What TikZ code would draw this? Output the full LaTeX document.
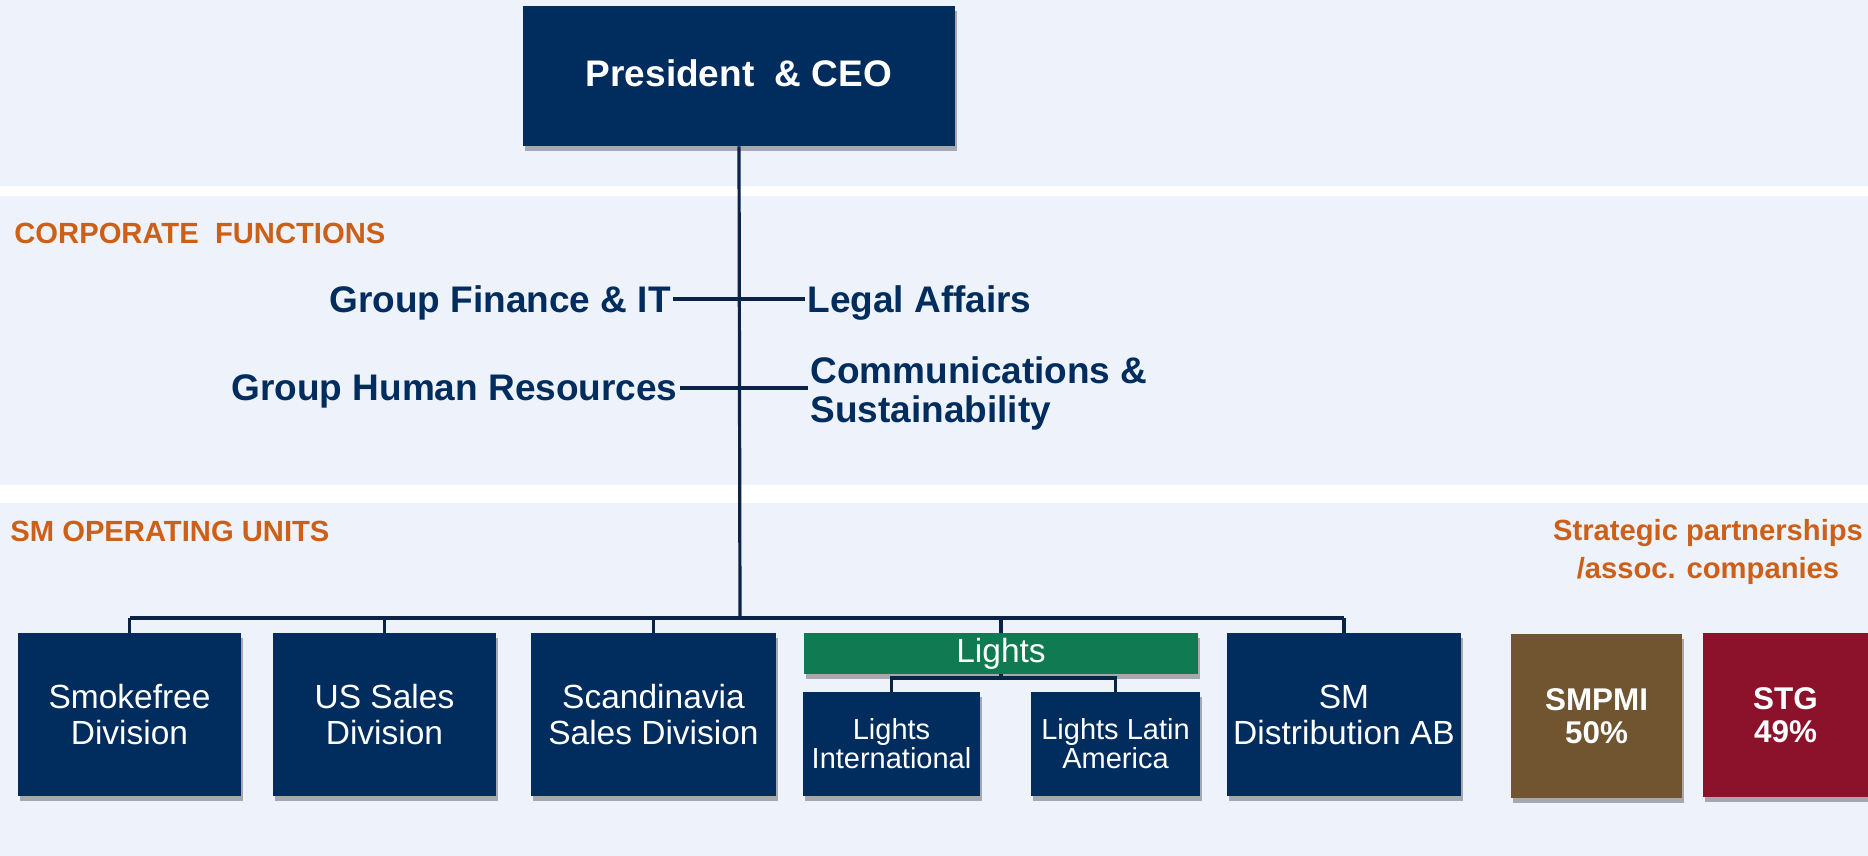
\documentclass[tikz,border=0pt]{standalone}
\usepackage{fontspec}
\setmainfont{Liberation Sans}
\usetikzlibrary{shadows}
\definecolor{smnavy}{RGB}{1,44,94}
\definecolor{smline}{RGB}{10,35,70}
\definecolor{smgreen}{RGB}{16,123,82}
\definecolor{smbrown}{RGB}{112,85,48}
\definecolor{smred}{RGB}{139,18,42}
\definecolor{smorange}{RGB}{204,96,24}
\definecolor{bandbg}{RGB}{238,242,250}
\tikzset{
  boxshadow/.style={drop shadow={shadow xshift=1.2pt,shadow yshift=-2.5pt,opacity=.3,fill=black}},
  unitbox/.style={fill=smnavy,text=white,align=center,inner sep=0pt,boxshadow,
    font=\fontsize{16.75}{18}\selectfont},
  subbox/.style={unitbox,font=\fontsize{14.5}{14.5}\selectfont},
  partbox/.style={unitbox,font=\bfseries\fontsize{15.7}{16.5}\selectfont},
  funclabel/.style={text=smnavy,inner sep=1pt,text depth=0pt,align=left,
    font=\bfseries\fontsize{18.5}{19.5}\selectfont},
  headlabel/.style={text=smorange,inner sep=0pt,align=center,
    font=\bfseries\fontsize{14.6}{19}\selectfont},
  conn/.style={draw=smline,line width=1.6pt}
}
\begin{document}
\begin{tikzpicture}[x=0.5pt,y=-0.5pt]
  \useasboundingbox (0,0) rectangle (1868,856);
  % background bands
  \fill[white] (0,0) rectangle (1868,856);
  \fill[bandbg] (0,0) rectangle (1868,186);
  \fill[bandbg] (0,196) rectangle (1868,485);
  \fill[bandbg] (0,503) rectangle (1868,856);
  % section headings
  \node[headlabel,anchor=west] (corpfn) at (14,233) {CORPORATE\ \ FUNCTIONS};
  \node[headlabel,anchor=west] (opunits) at (10,531) {SM OPERATING UNITS};
  \node[headlabel] (partners) at (1708,552) {Strategic partnerships\\/assoc. companies};
  % top
  \node[unitbox,minimum width=216pt,minimum height=70pt,text depth=3pt,font=\bfseries\fontsize{18.5}{20}\selectfont]
    (ceo) at (739,76) {President\ \ \& CEO};
  \coordinate (bus) at (740,618);
  \draw[conn] (ceo.south) -- (bus);
  % corporate functions
  \node[funclabel,anchor=east] (finance) at (673,299) {Group Finance \& IT};
  \node[funclabel,anchor=west] (legal) at (805,299) {Legal Affairs};
  \node[funclabel,anchor=east] (hr) at (680,388) {Group Human Resources};
  \node[funclabel,anchor=west] (comm) at (808,390) {Communications \&\\Sustainability};
  \draw[conn] (finance.east) -- (legal.west);
  \draw[conn] (hr.east) -- (hr.east -| comm.west);
  % operating units
  \node[unitbox,minimum width=111.5pt,minimum height=81.5pt] (smoke) at (129.5,714.5) {Smokefree\\Division};
  \node[unitbox,minimum width=111.5pt,minimum height=81.5pt] (ussales) at (384.5,714.5) {US Sales\\Division};
  \node[unitbox,minimum width=122.5pt,minimum height=81.5pt] (scand) at (653.5,714.5) {Scandinavia\\Sales Division};
  \node[unitbox,fill=smgreen,minimum width=197pt,minimum height=20.5pt] (lights) at (1001,653.5) {Lights};
  \node[subbox,minimum width=88.5pt,minimum height=52pt] (lint) at (891.5,744) {Lights\\International};
  \node[subbox,minimum width=84.5pt,minimum height=52pt] (llat) at (1115.5,744) {Lights Latin\\America};
  \node[unitbox,minimum width=117pt,minimum height=81.5pt] (smdist) at (1344,714.5) {SM\\Distribution AB};
  \draw[conn] (smoke.north |- bus) -- (smdist.north |- bus);
  \foreach \u in {smoke,ussales,scand,lights,smdist}
    \draw[conn] (\u.north) -- (\u.north |- bus);
  \coordinate (lbus) at (1001,678);
  \draw[conn] (lights.south) -- (lbus);
  \draw[conn] (lint.north) |- (lbus) -| (llat.north);
  % partnerships
  \node[partbox,fill=smbrown,minimum width=85.5pt,minimum height=82pt] (smpmi) at (1596.5,716) {SMPMI\\50\%};
  \node[partbox,fill=smred,minimum width=82.5pt,minimum height=82pt] (stg) at (1785.5,715) {STG\\49\%};
\end{tikzpicture}
\end{document}
